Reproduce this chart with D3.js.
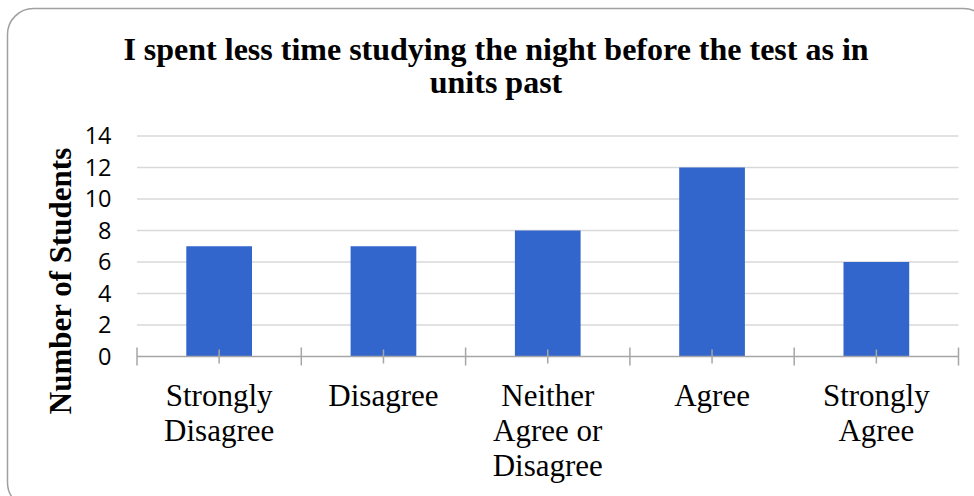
<!DOCTYPE html>
<html>
<head>
    <meta charset="UTF-8">
    <title>Night Before Test Survey</title>
    <script src="https://d3js.org/d3.v7.min.js"></script>
    <style>
        body { margin: 0; background: #fff; }
        .title { font-family: "Liberation Serif", "Times New Roman", serif; font-weight: bold; font-size: 32px; text-anchor: middle; }
        .y-title { font-family: "Liberation Serif", "Times New Roman", serif; font-weight: bold; font-size: 31px; text-anchor: middle; }
        .cat-label { font-family: "Liberation Serif", "Times New Roman", serif; font-size: 31px; text-anchor: middle; }
        .tick-label { font-family: "Open Sans", sans-serif; font-size: 23.5px; text-anchor: end; }
        .bar { fill: #3366cc; }
    </style>
</head>
<body>
<script>
    const categories = [
        ['Strongly', 'Disagree'],
        ['Disagree'],
        ['Neither', 'Agree or', 'Disagree'],
        ['Agree'],
        ['Strongly', 'Agree']
    ];
    const values = [7, 7, 8, 12, 6];
    const yTicks = [0, 2, 4, 6, 8, 10, 12, 14];
    const titleLines = ['I spent less time studying the night before the test as in', 'units past'];
    const yTitle = 'Number of Students';

    const width = 974;
    const height = 496;
    const plotLeft = 137;
    const plotRight = 958.5;
    const plotTop = 136;
    const plotBottom = 356.5;

    const svg = d3.select('body')
        .append('svg')
        .attr('width', width)
        .attr('height', height);

    // chart frame, rounded, runs off the right and bottom edges
    svg.append('rect')
        .attr('x', 7.5)
        .attr('y', 8.5)
        .attr('width', 982)
        .attr('height', 500)
        .attr('rx', 26)
        .attr('fill', '#fff')
        .attr('stroke', '#a0a0a0')
        .attr('stroke-width', 1.5);

    svg.selectAll('.title')
        .data(titleLines)
        .enter()
        .append('text')
        .attr('class', 'title')
        .attr('x', 496)
        .attr('y', (d, i) => 60 + i * 33)
        .text(d => d);

    const ids = categories.map((d, i) => i);

    const x = d3.scaleBand()
        .domain(ids)
        .range([plotLeft, plotRight])
        .padding(0);

    const y = d3.scaleLinear()
        .domain([0, 14])
        .range([plotBottom, plotTop]);

    // gridlines
    svg.append('g')
        .selectAll('line')
        .data(yTicks.filter(d => d > 0))
        .enter()
        .append('line')
        .attr('x1', plotLeft)
        .attr('x2', plotRight)
        .attr('y1', d => y(d))
        .attr('y2', d => y(d))
        .attr('stroke', '#d9d9d9')
        .attr('stroke-width', 1.5);

    svg.append('g')
        .selectAll('text')
        .data(yTicks)
        .enter()
        .append('text')
        .attr('class', 'tick-label')
        .attr('x', 111.5)
        .attr('y', d => y(d))
        .attr('dy', '0.36em')
        .text(d => d);

    const barW = x.bandwidth() * 0.4;
    svg.append('g')
        .selectAll('rect')
        .data(values)
        .enter()
        .append('rect')
        .attr('class', 'bar')
        .attr('x', (d, i) => x(i) + (x.bandwidth() - barW) / 2)
        .attr('y', d => y(d))
        .attr('width', barW)
        .attr('height', d => y(0) - y(d));

    // x axis line with boundary and centre ticks
    const axis = svg.append('g').attr('stroke', '#a6a6a6').attr('stroke-width', 1.5);
    axis.append('line')
        .attr('x1', plotLeft).attr('x2', plotRight)
        .attr('y1', plotBottom).attr('y2', plotBottom);
    const edges = ids.map(i => x(i)).concat([plotRight]);
    axis.selectAll('.edge')
        .data(edges)
        .enter()
        .append('line')
        .attr('x1', d => d).attr('x2', d => d)
        .attr('y1', plotBottom - 9).attr('y2', plotBottom + 9);
    axis.selectAll('.mid')
        .data(ids)
        .enter()
        .append('line')
        .attr('x1', d => x(d) + x.bandwidth() / 2)
        .attr('x2', d => x(d) + x.bandwidth() / 2)
        .attr('y1', plotBottom - 7).attr('y2', plotBottom + 7);

    // category labels
    const labels = svg.append('g')
        .selectAll('text')
        .data(categories)
        .enter()
        .append('text')
        .attr('class', 'cat-label')
        .attr('x', (d, i) => x(i) + x.bandwidth() / 2)
        .attr('y', 406);
    labels.selectAll('tspan')
        .data(d => d)
        .enter()
        .append('tspan')
        .attr('x', function() { return this.parentNode.getAttribute('x'); })
        .attr('y', (d, i) => 406 + i * 35)
        .text(d => d);

    svg.append('text')
        .attr('class', 'y-title')
        .attr('transform', 'translate(71, 281) rotate(-90)')
        .text(yTitle);
</script>
</body>
</html>
